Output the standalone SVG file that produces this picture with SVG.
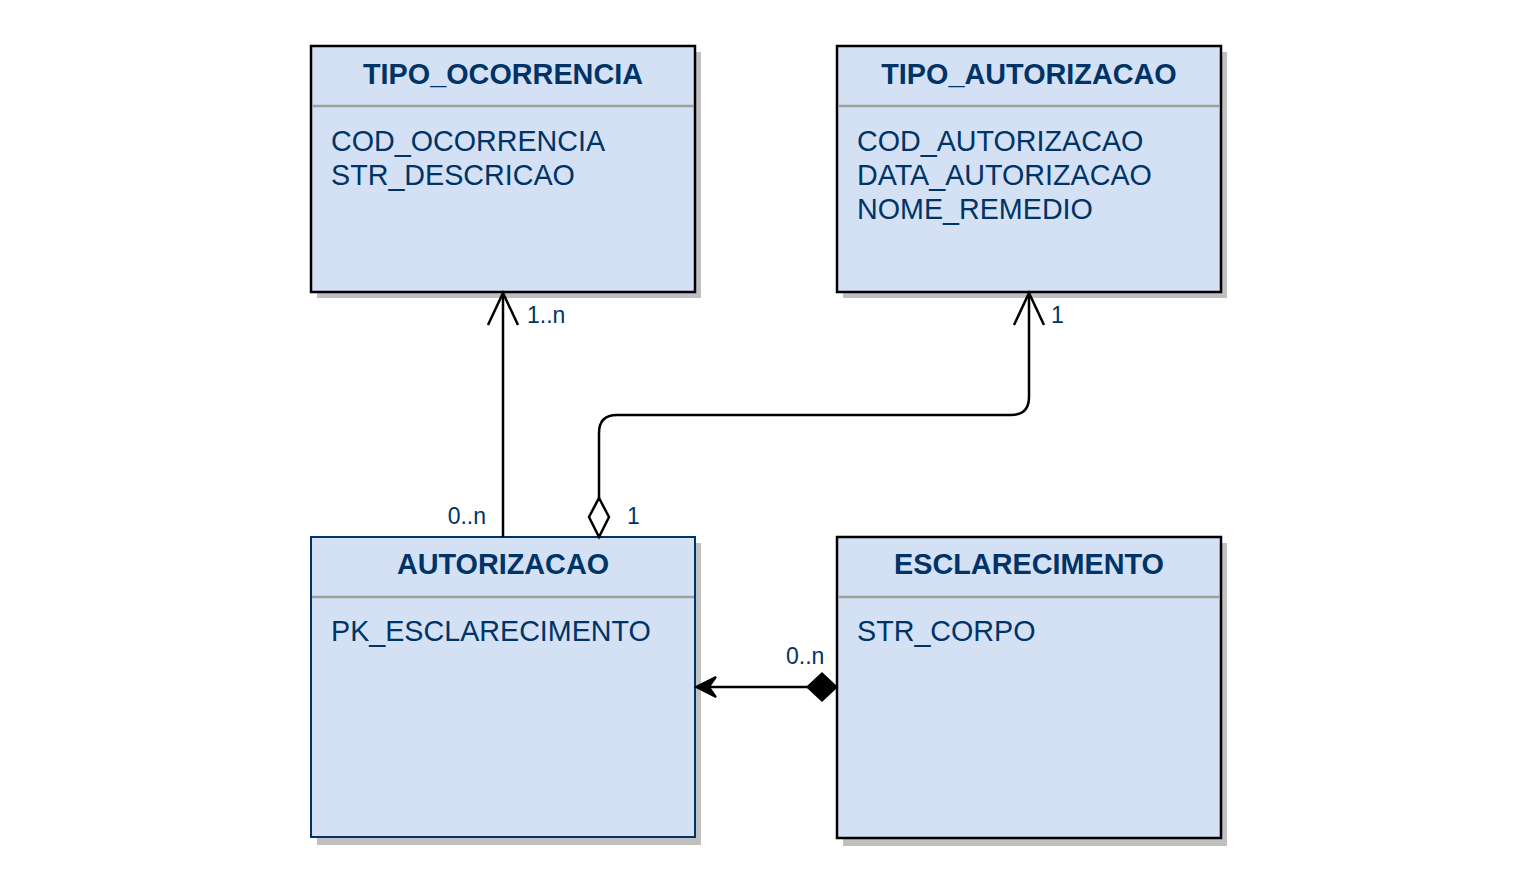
<svg xmlns="http://www.w3.org/2000/svg" width="1518" height="874" viewBox="0 0 1518 874">
<style>
.shadow{fill:#c0c0c0;}
.box{fill:#d4e1f5;stroke:#000;stroke-width:2.5;}
.box2{fill:#d4e1f5;stroke:#003366;stroke-width:2;}
.div{stroke:#a0a0a0;stroke-width:2.5;}
.title{font-family:"Liberation Sans",Arial,sans-serif;font-size:28.8px;font-weight:bold;fill:#003366;text-anchor:middle;}
.attr{font-family:"Liberation Sans",Arial,sans-serif;font-size:28.7px;fill:#003366;}
.lbl{font-family:"Liberation Sans",Arial,sans-serif;font-size:23px;fill:#003366;}
.edge{fill:none;stroke:#000;stroke-width:2.5;}
</style>
<rect width="1518" height="874" fill="#fff"/>
<g id="TIPO_OCORRENCIA">
<rect class="shadow" x="317" y="52" width="384" height="246"/>
<rect class="box" x="311" y="46" width="384" height="246"/>
<line class="div" x1="312" y1="106" x2="694" y2="106"/>
<text class="title" x="503" y="84">TIPO_OCORRENCIA</text>
<text class="attr" x="331" y="151">COD_OCORRENCIA</text>
<text class="attr" x="331" y="185">STR_DESCRICAO</text>
</g>
<g id="TIPO_AUTORIZACAO">
<rect class="shadow" x="843" y="52" width="384" height="246"/>
<rect class="box" x="837" y="46" width="384" height="246"/>
<line class="div" x1="838" y1="106" x2="1220" y2="106"/>
<text class="title" x="1029" y="84">TIPO_AUTORIZACAO</text>
<text class="attr" x="857" y="151">COD_AUTORIZACAO</text>
<text class="attr" x="857" y="185">DATA_AUTORIZACAO</text>
<text class="attr" x="857" y="219">NOME_REMEDIO</text>
</g>
<g id="AUTORIZACAO">
<rect class="shadow" x="317" y="543" width="384" height="302"/>
<rect class="box2" x="311" y="537" width="384" height="300"/>
<line class="div" x1="312" y1="597" x2="694" y2="597"/>
<text class="title" x="503" y="574">AUTORIZACAO</text>
<text class="attr" x="331" y="641">PK_ESCLARECIMENTO</text>
</g>
<g id="ESCLARECIMENTO">
<rect class="shadow" x="843" y="543" width="384" height="303"/>
<rect class="box" x="837" y="537" width="384" height="301"/>
<line class="div" x1="838" y1="597" x2="1220" y2="597"/>
<text class="title" x="1029" y="574">ESCLARECIMENTO</text>
<text class="attr" x="857" y="641">STR_CORPO</text>
</g>
<g id="connectors">
<path class="edge" d="M503 537 V293"/>
<path class="edge" d="M488 325 L503 293 L518 325"/>
<text class="lbl" x="486" y="524" text-anchor="end">0..n</text>
<text class="lbl" x="527" y="323">1..n</text>
<path class="edge" d="M599 498 V433 Q599 415 617 415 H1011 Q1029 415 1029 397 V293"/>
<path class="edge" d="M1014 325 L1029 293 L1044 325"/>
<path d="M599 537 L589 517 L599 498 L609 517 Z" fill="#fff" stroke="#000" stroke-width="2.5"/>
<text class="lbl" x="627" y="524">1</text>
<text class="lbl" x="1051" y="323">1</text>
<path class="edge" d="M808 687 H705"/>
<path d="M696 687 L716 677 L709 687 L716 697 Z" fill="#000" stroke="#000" stroke-width="2" stroke-linejoin="miter"/>
<path d="M837 687 L822 673 L807 687 L822 701 Z" fill="#000" stroke="#000" stroke-width="1.5"/>
<text class="lbl" x="786" y="664">0..n</text>
</g>
</svg>
